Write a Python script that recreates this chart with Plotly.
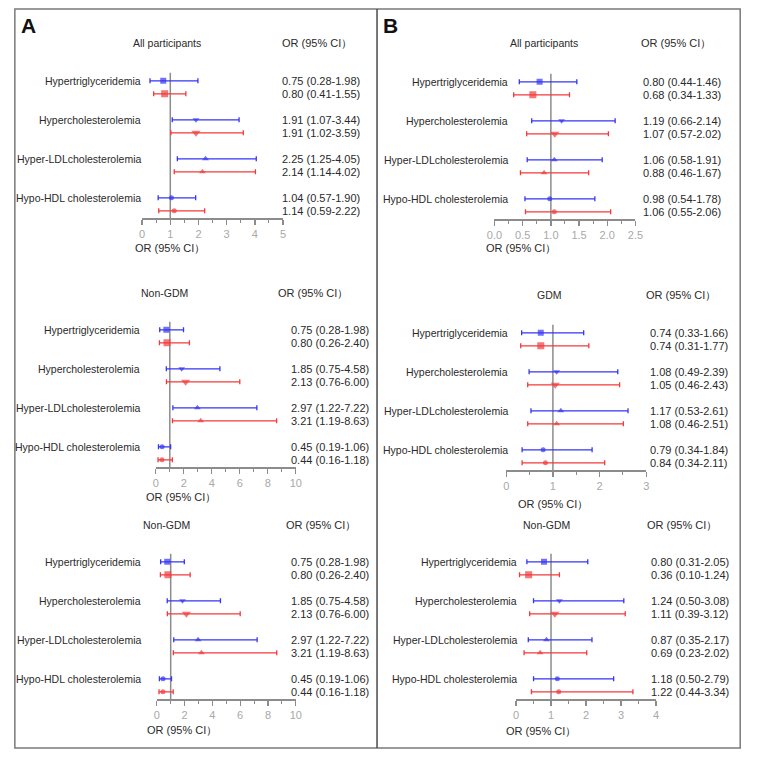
import plotly.graph_objects as go

# ---------------- data ----------------
categories = ["Hypertriglyceridemia", "Hypercholesterolemia",
              "Hyper-LDLcholesterolemia", "Hypo-HDL cholesterolemia"]

# Panel A - All participants
a_all_blue_or = [0.75, 1.91, 2.25, 1.04]
a_all_blue_lo = [0.28, 1.07, 1.25, 0.57]
a_all_blue_hi = [1.98, 3.44, 4.05, 1.90]
a_all_red_or = [0.80, 1.91, 2.14, 1.14]
a_all_red_lo = [0.41, 1.02, 1.14, 0.59]
a_all_red_hi = [1.55, 3.59, 4.02, 2.22]

# Panel A - Non-GDM (shown twice)
a_ngdm_blue_or = [0.75, 1.85, 2.97, 0.45]
a_ngdm_blue_lo = [0.28, 0.75, 1.22, 0.19]
a_ngdm_blue_hi = [1.98, 4.58, 7.22, 1.06]
a_ngdm_red_or = [0.80, 2.13, 3.21, 0.44]
a_ngdm_red_lo = [0.26, 0.76, 1.19, 0.16]
a_ngdm_red_hi = [2.40, 6.00, 8.63, 1.18]

# Panel B - All participants
b_all_blue_or = [0.80, 1.19, 1.06, 0.98]
b_all_blue_lo = [0.44, 0.66, 0.58, 0.54]
b_all_blue_hi = [1.46, 2.14, 1.91, 1.78]
b_all_red_or = [0.68, 1.07, 0.88, 1.06]
b_all_red_lo = [0.34, 0.57, 0.46, 0.55]
b_all_red_hi = [1.33, 2.02, 1.67, 2.06]

# Panel B - GDM
b_gdm_blue_or = [0.74, 1.08, 1.17, 0.79]
b_gdm_blue_lo = [0.33, 0.49, 0.53, 0.34]
b_gdm_blue_hi = [1.66, 2.39, 2.61, 1.84]
b_gdm_red_or = [0.74, 1.05, 1.08, 0.84]
b_gdm_red_lo = [0.31, 0.46, 0.46, 0.34]
b_gdm_red_hi = [1.77, 2.43, 2.51, 2.11]

# Panel B - Non-GDM
b_ngdm_blue_or = [0.80, 1.24, 0.87, 1.18]
b_ngdm_blue_lo = [0.31, 0.50, 0.35, 0.50]
b_ngdm_blue_hi = [2.05, 3.08, 2.17, 2.79]
b_ngdm_red_or = [0.36, 1.11, 0.69, 1.22]
b_ngdm_red_lo = [0.10, 0.39, 0.23, 0.44]
b_ngdm_red_hi = [1.24, 3.12, 2.02, 3.34]

panel_titles = ["All participants", "Non-GDM", "Non-GDM",
                "All participants", "GDM", "Non-GDM"]
panel_data = [
    (a_all_blue_or, a_all_blue_lo, a_all_blue_hi, a_all_red_or, a_all_red_lo, a_all_red_hi),
    (a_ngdm_blue_or, a_ngdm_blue_lo, a_ngdm_blue_hi, a_ngdm_red_or, a_ngdm_red_lo, a_ngdm_red_hi),
    (a_ngdm_blue_or, a_ngdm_blue_lo, a_ngdm_blue_hi, a_ngdm_red_or, a_ngdm_red_lo, a_ngdm_red_hi),
    (b_all_blue_or, b_all_blue_lo, b_all_blue_hi, b_all_red_or, b_all_red_lo, b_all_red_hi),
    (b_gdm_blue_or, b_gdm_blue_lo, b_gdm_blue_hi, b_gdm_red_or, b_gdm_red_lo, b_gdm_red_hi),
    (b_ngdm_blue_or, b_ngdm_blue_lo, b_ngdm_blue_hi, b_ngdm_red_or, b_ngdm_red_lo, b_ngdm_red_hi),
]
axis_max = [5, 10, 10, 2.5, 3, 4]
axis_dtick = [1, 2, 2, 0.5, 1, 1]
axis_minor = [0.5, 1, 1, 0.25, 0.5, 0.5]
axis_fmt = ["d", "d", "d", ".1f", "d", "d"]

# ---------------- layout (pixel geometry) ----------------
W, H = 757, 760
layout_px = [
    dict(x0=137, x1=281, base=218, label_x=138, value_x=278, title_x=162, title_y=43, head_x=278, axt_x=165, axt_y=248),
    dict(x0=151, x1=294, base=467, label_x=137, value_x=287, title_x=160, title_y=293, head_x=274, axt_x=177, axt_y=497),
    dict(x0=152, x1=294, base=699, label_x=138, value_x=287, title_x=162, title_y=525, head_x=282, axt_x=178, axt_y=730),
    dict(x0=497, x1=641, base=219, label_x=513, value_x=647, title_x=548, title_y=43, head_x=645, axt_x=524, axt_y=248),
    dict(x0=509, x1=652, base=470, label_x=513, value_x=654, title_x=553, title_y=295, head_x=650, axt_x=557, axt_y=504),
    dict(x0=519, x1=662, base=699, label_x=522, value_x=655, title_x=550, title_y=525, head_x=651, axt_x=545, axt_y=731),
]
UNIT = 13.0
YTOP = 11.2

BLUE = "#3535f5"
RED = "#f23a3a"
GRAY = "#8c8c8c"
TXT = "#2a2a2a"
FONT = "Liberation Sans, Arial, sans-serif"
HEAD = "OR (95% CI\uff09"

symbols = ["square", "triangle-down", "triangle-up", "circle"]
blue_sizes = [6, 6, 6, 5]
red_sizes = [7, 8, 6, 5]

fig = go.Figure()
annotations = []
shapes = []
lay = {}

def px(x):
    return x / W

def py(y):
    return 1 - y / H

for k in range(6):
    g = layout_px[k]
    bo, bl, bh, ro, rl, rh = panel_data[k]
    n = len(categories)
    y_blue = [1.55 + 3 * (n - 1 - i) for i in range(n)]
    y_red = [v - 1 for v in y_blue]
    sfx = "" if k == 0 else str(k + 1)
    xa, ya = "x" + sfx, "y" + sfx

    fig.add_trace(go.Scatter(x=[1, 1], y=[0, YTOP], mode="lines",
                             line=dict(color=GRAY, width=1.5),
                             xaxis=xa, yaxis=ya, showlegend=False, hoverinfo="skip"))
    for (o, lo, hi, yy, col, sz) in [(bo, bl, bh, y_blue, BLUE, blue_sizes),
                                      (ro, rl, rh, y_red, RED, red_sizes)]:
        fig.add_trace(go.Scatter(
            x=o, y=yy, mode="markers",
            marker=dict(symbol=symbols, size=sz, color=col, line=dict(width=0)),
            error_x=dict(type="data", symmetric=False,
                         array=[h - v for h, v in zip(hi, o)],
                         arrayminus=[v - l for v, l in zip(o, lo)],
                         color=col, thickness=1.3, width=2.5),
            xaxis=xa, yaxis=ya, showlegend=False))
        for i in range(n):
            annotations.append(dict(
                x=px(g["value_x"]), xref="paper", y=yy[i], yref=ya,
                text=f"{o[i]:.2f} ({lo[i]:.2f}-{hi[i]:.2f})",
                showarrow=False, xanchor="left", yanchor="middle",
                font=dict(size=11, color=TXT, family=FONT)))
    for i in range(n):
        annotations.append(dict(
            x=px(g["label_x"]), xref="paper", y=y_blue[i], yref=ya,
            text=categories[i], showarrow=False, xanchor="right", yanchor="middle",
            font=dict(size=10.5, color=TXT, family=FONT)))

    annotations.append(dict(x=px(g["title_x"]), y=py(g["title_y"]), xref="paper", yref="paper",
                            text=panel_titles[k], showarrow=False, xanchor="center", yanchor="middle",
                            font=dict(size=10.5, color=TXT, family=FONT)))
    annotations.append(dict(x=px(g["head_x"]), y=py(g["title_y"]), xref="paper", yref="paper",
                            text=HEAD, showarrow=False, xanchor="left", yanchor="middle",
                            font=dict(size=11, color=TXT, family=FONT)))
    annotations.append(dict(x=px(g["axt_x"]), y=py(g["axt_y"]), xref="paper", yref="paper",
                            text=HEAD, showarrow=False, xanchor="center", yanchor="middle",
                            font=dict(size=11, color=TXT, family=FONT)))

    xmax = axis_max[k]
    dt = axis_dtick[k]
    ticks = []
    v = 0.0
    while v <= xmax + 1e-9:
        ticks.append(round(v, 4))
        v += dt
    lay["xaxis" + sfx] = dict(
        domain=[px(g["x0"]), px(g["x1"])], range=[0, xmax], anchor=ya,
        showline=True, linecolor=GRAY, linewidth=1.5, showgrid=False, zeroline=False,
        ticks="outside", ticklen=5, tickwidth=1.3, tickcolor=GRAY,
        tickvals=ticks, tickformat=axis_fmt[k],
        tickfont=dict(size=11, color="#a8a8a8", family=FONT),
        minor=dict(dtick=axis_minor[k], tick0=0, ticks="outside", ticklen=3,
                   tickwidth=1, tickcolor=GRAY, showgrid=False),
        fixedrange=True)
    lay["yaxis" + sfx] = dict(
        domain=[py(g["base"]), py(g["base"] - YTOP * UNIT)], range=[0, YTOP],
        anchor=xa, visible=False, showgrid=False, zeroline=False, fixedrange=True)

annotations.append(dict(x=px(11), y=py(25), xref="paper", yref="paper", text="<b>A</b>",
                        showarrow=False, xanchor="left", yanchor="middle",
                        font=dict(size=21, color="#111", family=FONT)))
annotations.append(dict(x=px(381), y=py(25), xref="paper", yref="paper", text="<b>B</b>",
                        showarrow=False, xanchor="left", yanchor="middle",
                        font=dict(size=21, color="#111", family=FONT)))

shapes.append(dict(type="rect", xref="paper", yref="paper",
                   x0=px(7), x1=px(748), y0=py(748), y1=py(9),
                   line=dict(color="#7a7a7a", width=1.5)))
shapes.append(dict(type="line", xref="paper", yref="paper",
                   x0=px(377), x1=px(377), y0=py(748), y1=py(9),
                   line=dict(color="#4a4a4a", width=1.5)))

fig.update_layout(width=W, height=H, margin=dict(l=0, r=0, t=0, b=0),
                  paper_bgcolor="white", plot_bgcolor="rgba(0,0,0,0)",
                  annotations=annotations, shapes=shapes, showlegend=False,
                  font=dict(family=FONT), **lay)

fig.write_html("out.html", config={"displayModeBar": False, "staticPlot": True},
               post_script="document.body.style.margin='0';document.body.style.overflow='hidden';")
